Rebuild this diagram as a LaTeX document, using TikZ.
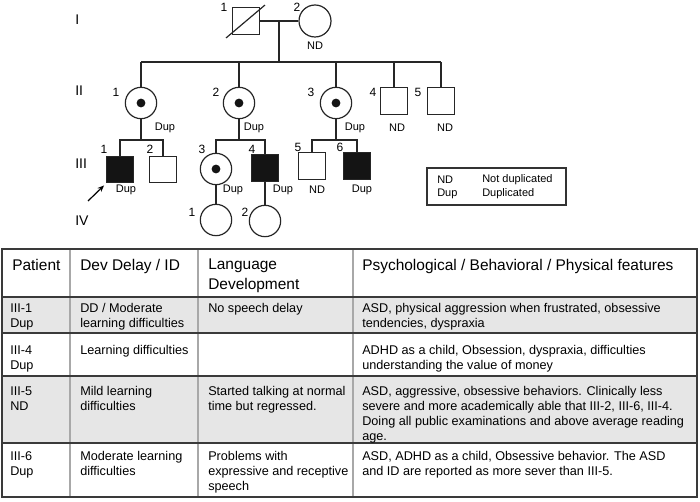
\documentclass[tikz,border=0pt]{standalone}
\usepackage{fontspec}
\setmainfont{Liberation Sans}
\usetikzlibrary{arrows.meta}
\newcommand\pedfont{\fontsize{8.25}{10}\selectfont}
\newcommand\numfont{\fontsize{9}{11}\selectfont}
\newcommand\genfont{\fontsize{10.5}{12}\selectfont}
\newcommand\bodyfont{\fontsize{9.5}{11.25}\selectfont}
\newcommand\headfont{\fontsize{11.6}{15}\selectfont}
\definecolor{rowgray}{HTML}{E6E6E6}
\definecolor{vline}{HTML}{A8A8A8}
\definecolor{hline}{HTML}{3A3A3A}
\tikzset{
  ped/.style={line width=0.9pt, draw=black!85},
  male/.style={rectangle, ped, minimum size=20pt, inner sep=0pt, fill=white},
  affm/.style={male, fill=black!92},
  fem/.style={circle, ped, minimum size=23.5pt, inner sep=0pt, fill=white},
  carrier/.style={fem, path picture={\fill[black!92] (path picture bounding box.center) circle (3.3pt);}},
  lbl/.style={font=\pedfont, inner sep=0pt},
  num/.style={font=\numfont, inner sep=0pt},
  gen/.style={font=\genfont, inner sep=0pt, anchor=west},
  cell/.style={font=\bodyfont, inner sep=0pt, anchor=north west, align=left},
  head/.style={font=\headfont, inner sep=0pt, anchor=north west, align=left},
}
\begin{document}
\begin{tikzpicture}[x=0.75pt,y=-0.75pt]
\useasboundingbox (0,0) rectangle (700,502);

% generation labels
\node[gen] (gI) at (75,20) {I};
\node[gen] (gII) at (75,91) {II};
\node[gen] (gIII) at (75,164) {III};
\node[gen] (gIV) at (75,221) {IV};

% generation I
\node[male] (I1) at (246,21) {};
\node[fem, minimum size=24pt] (I2) at (315,21) {};
\draw[ped] ([shift={(-6,3)}]I1.south west) -- ([shift={(5,-2)}]I1.north east);
\coordinate (m1) at (279,21);
\coordinate (s1) at (279,62);
\draw[ped] (I1.east) -- (I2.west);
\draw[ped] (m1) -- (s1);

% generation II
\node[carrier] (II1) at (141,103) {};
\node[carrier] (II2) at (239,103) {};
\node[carrier] (II3) at (336,103) {};
\node[male] (II4) at (394,101) {};
\node[male] (II5) at (441,101) {};
\draw[ped] (II1 |- s1) -- (II5 |- s1);
\foreach \n in {II1,II2,II3,II4,II5} \draw[ped] (\n.north) -- (\n |- s1);

% generation III
\coordinate (s2) at (141,140);
\coordinate (s3) at (239,140);
\coordinate (s4) at (336,140);
\node[affm] (III1) at (120,169.5) {};
\node[male] (III2) at (163,169.5) {};
\node[carrier] (III3) at (216,169) {};
\node[affm] (III4) at (265,168) {};
\node[male] (III5) at (312,166) {};
\node[affm] (III6) at (357,166) {};
\draw[ped] (II1.south) -- (s2);
\draw[ped] (II2.south) -- (s3);
\draw[ped] (II3.south) -- (s4);
\draw[ped] (III1.north) -- (III1 |- s2) -- (III2 |- s2) -- (III2.north);
\draw[ped] (III3.north) -- (III3 |- s3) -- (III4 |- s3) -- (III4.north);
\draw[ped] (III5.north) -- (III5 |- s4) -- (III6 |- s4) -- (III6.north);

% generation IV
\node[fem] (IV1) at (216,220) {};
\node[fem] (IV2) at (265,221) {};
\draw[ped] (III3.south) -- (IV1.north);
\draw[ped] (III4.south) -- (IV2.north);

% proband arrow
\coordinate (arr) at (88,201);
\draw[line width=0.9pt, -{Stealth[length=5pt,width=4pt]}] (arr) -- ([shift={(-2,2)}]III1.south west);

% individual numbers
\node[num] (nI1) at (224,7) {1};
\node[num] (nI2) at (297,7) {2};
\node[num] (nII1) at (116,92) {1};
\node[num] (nII2) at (216,92) {2};
\node[num] (nII3) at (311,92) {3};
\node[num] (nII4) at (373,92) {4};
\node[num] (nII5) at (418,92) {5};
\node[num] (nIII1) at (104,149) {1};
\node[num] (nIII2) at (150,149) {2};
\node[num] (nIII3) at (202,149) {3};
\node[num] (nIII4) at (252,149) {4};
\node[num] (nIII5) at (298,147) {5};
\node[num] (nIII6) at (340,147) {6};
\node[num] (nIV1) at (192,212) {1};
\node[num] (nIV2) at (245,212) {2};

% status labels
\node[lbl] (dI2) at (315,46) {ND};
\node[lbl] (dII1) at (165,128) {Dup};
\node[lbl] (dII2) at (254,128) {Dup};
\node[lbl] (dII3) at (355,128) {Dup};
\node[lbl] (dII4) at (397,128) {ND};
\node[lbl] (dII5) at (445,128) {ND};
\node[lbl] (dIII1) at (126,190) {Dup};
\node[lbl] (dIII3) at (233,190) {Dup};
\node[lbl] (dIII4) at (283,190) {Dup};
\node[lbl] (dIII5) at (317,190) {ND};
\node[lbl] (dIII6) at (362,190) {Dup};

% legend
\node[draw=black!80, line width=0.8pt, minimum width=104.25pt, minimum height=27.75pt, inner sep=0pt] (legend) at (496.5,186.5) {};
\node[lbl, anchor=west] (lgND) at (437,180) {ND};
\node[lbl, anchor=west] (lgDup) at (437,194) {Dup};
\node[lbl, anchor=west] (lgNDt) at (482,180) {Not duplicated};
\node[lbl, anchor=west] (lgDupt) at (482,194) {Duplicated};

% table
\fill[rowgray] (2,297) rectangle (697,333);
\fill[rowgray] (2,376) rectangle (697,443);
\foreach \x in {70,198,353} \draw[vline, line width=0.8pt] (\x,249) -- (\x,497);
\foreach \y in {297,333,376,443} \draw[hline, line width=1pt] (2,\y) -- (697,\y);
\draw[hline, line width=1.4pt] (2,249) rectangle (697,497);

% header
\node[head] (hP) at (12,259) {Patient};
\node[head] (hD) at (80,259) {Dev Delay / ID};
\node[head] (hL) at (208,259) {Language\\Development};
\node[head] (hF) at (362,259) {Psychological / Behavioral / Physical features};

% row 1
\node[cell] (r1a) at (10,303.5) {III-1\\Dup};
\node[cell] (r1b) at (80,303.5) {DD / Moderate\\learning difficulties};
\node[cell] (r1c) at (208,303.5) {No speech delay};
\node[cell] (r1d) at (362,303.5) {ASD, physical aggression when frustrated, obsessive\\tendencies, dyspraxia};

% row 2
\node[cell] (r2a) at (10,345.5) {III-4\\Dup};
\node[cell] (r2b) at (80,345.5) {Learning difficulties};
\node[cell] (r2d) at (362,345.5) {ADHD as a child, Obsession, dyspraxia, difficulties\\understanding the value of money};

% row 3
\node[cell] (r3a) at (10,386.5) {III-5\\ND};
\node[cell] (r3b) at (80,386.5) {Mild learning\\difficulties};
\node[cell] (r3c) at (208,386.5) {Started talking at normal\\time but regressed.};
\node[cell] (r3d) at (362,386.5) {ASD, aggressive, obsessive behaviors. Clinically less\\severe and more academically able that III-2, III-6, III-4.\\Doing all public examinations and above average reading\\age.};

% row 4
\node[cell] (r4a) at (10,451.5) {III-6\\Dup};
\node[cell] (r4b) at (80,451.5) {Moderate learning\\difficulties};
\node[cell] (r4c) at (208,451.5) {Problems with\\expressive and receptive\\speech};
\node[cell] (r4d) at (362,451.5) {ASD, ADHD as a child, Obsessive behavior. The ASD\\and ID are reported as more sever than III-5.};
\end{tikzpicture}
\end{document}
